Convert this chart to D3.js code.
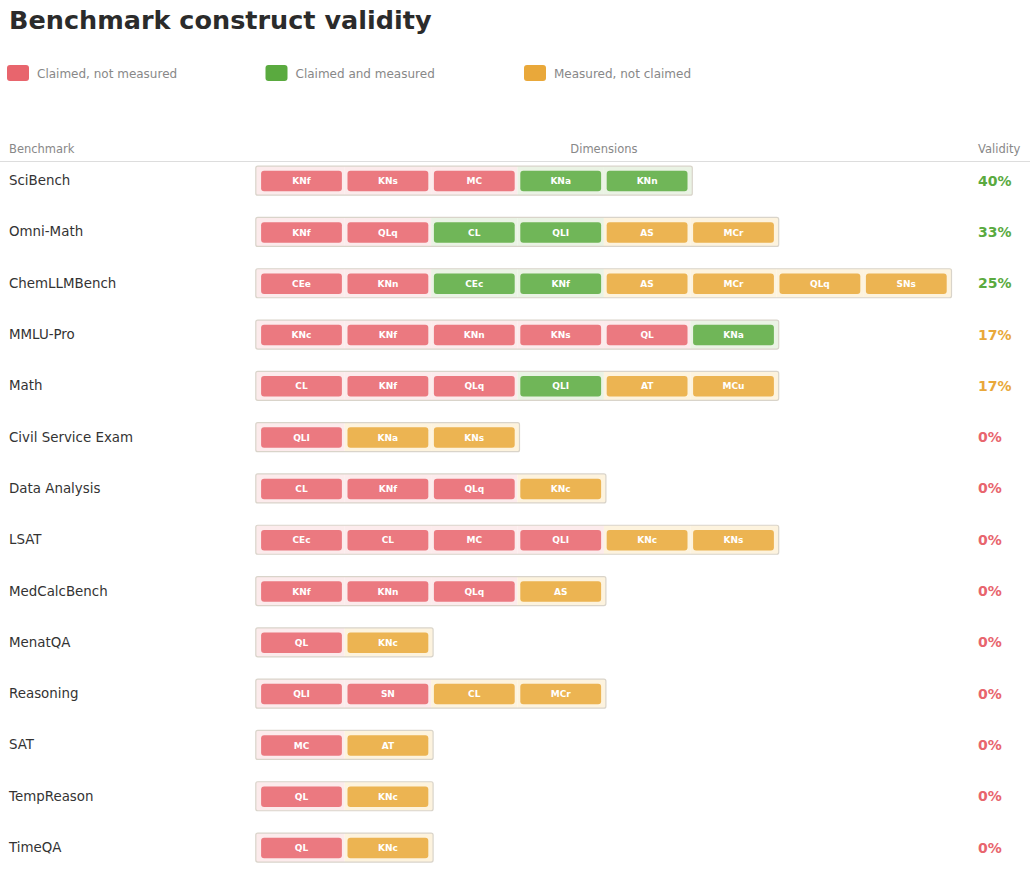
<!DOCTYPE html>
<html>
<head>
<meta charset="utf-8">
<script src="https://cdn.jsdelivr.net/npm/d3@7"></script>
<style>
  body { margin: 0; background: #fff; }
  svg { display: block; font-family: "DejaVu Sans", sans-serif; }
</style>
</head>
<body>
<svg width="1030" height="874"></svg>
<script>
// Data
// ----
var benchmarks = ['SciBench', 'Omni-Math', 'ChemLLMBench', 'MMLU-Pro', 'Math',
  'Civil Service Exam', 'Data Analysis', 'LSAT', 'MedCalcBench', 'MenatQA',
  'Reasoning', 'SAT', 'TempReason', 'TimeQA'];

var claimedNotMeasured = [
  ['KNf', 'KNs', 'MC'],
  ['KNf', 'QLq'],
  ['CEe', 'KNn'],
  ['KNc', 'KNf', 'KNn', 'KNs', 'QL'],
  ['CL', 'KNf', 'QLq'],
  ['QLI'],
  ['CL', 'KNf', 'QLq'],
  ['CEc', 'CL', 'MC', 'QLI'],
  ['KNf', 'KNn', 'QLq'],
  ['QL'],
  ['QLI', 'SN'],
  ['MC'],
  ['QL'],
  ['QL']
];

var claimedAndMeasured = [
  ['KNa', 'KNn'],
  ['CL', 'QLI'],
  ['CEc', 'KNf'],
  ['KNa'],
  ['QLI'],
  [], [], [], [], [], [], [], [], []
];

var measuredNotClaimed = [
  [],
  ['AS', 'MCr'],
  ['AS', 'MCr', 'QLq', 'SNs'],
  [],
  ['AT', 'MCu'],
  ['KNa', 'KNs'],
  ['KNc'],
  ['KNc', 'KNs'],
  ['AS'],
  ['KNc'],
  ['CL', 'MCr'],
  ['AT'],
  ['KNc'],
  ['KNc']
];

var validity = [40, 33, 25, 17, 17, 0, 0, 0, 0, 0, 0, 0, 0, 0];

var legendLabels = ['Claimed, not measured', 'Claimed and measured', 'Measured, not claimed'];

// Styles
// ------
var colors = ['#e8656d', '#5aaa3f', '#e9a83a'];
var tints = ['#fcebec', '#eaf3e4', '#fdf3de'];

var svg = d3.select('svg');

// Title
// -----
svg.append('text')
   .attr('x', 9)
   .attr('y', 29)
   .text('Benchmark construct validity')
   .attr('font-size', '25.5px')
   .attr('font-weight', 'bold')
   .attr('fill', '#2b2b2b');

// Legend
// ------
var legendX = d3.scaleLinear().domain([0, 1]).range([7, 265.5]);
var legend = svg.selectAll('g.legend')
   .data(legendLabels)
   .enter().append('g')
   .attr('class', 'legend')
   .attr('transform', function (d, i) { return 'translate(' + legendX(i) + ',65)'; });
legend.append('rect')
   .attr('width', 22)
   .attr('height', 16)
   .attr('rx', 3)
   .style('fill', function (d, i) { return colors[i]; });
legend.append('text')
   .attr('x', 30)
   .attr('y', 12.5)
   .text(function (d) { return d; })
   .attr('font-size', '12px')
   .attr('fill', '#888');

// Header
// ------
var x = d3.scaleLinear().domain([0, 8]).range([258.3, 258.3 + 8 * 86.4]);
var y = d3.scaleBand().domain(benchmarks).range([155, 155 + 14 * 51.3]);

svg.append('text').attr('x', 9).attr('y', 153).text('Benchmark')
   .attr('font-size', '11.5px').attr('fill', '#888');
svg.append('text').attr('x', (x(0) + x(8)) / 2).attr('y', 153).text('Dimensions')
   .attr('text-anchor', 'middle').attr('font-size', '11.5px').attr('fill', '#888');
svg.append('text').attr('x', 978).attr('y', 153).text('Validity')
   .attr('font-size', '11.5px').attr('fill', '#888');
svg.append('line')
   .attr('x1', 0).attr('x2', 1030)
   .attr('y1', 161.5).attr('y2', 161.5)
   .style('stroke', '#ddd');

// Rows
// ----
var rows = benchmarks.map(function (name, i) {
  var chips = [];
  [claimedNotMeasured[i], claimedAndMeasured[i], measuredNotClaimed[i]].forEach(function (list, g) {
    list.forEach(function (code) { chips.push({code: code, group: g}); });
  });
  return {name: name, chips: chips, validity: validity[i]};
});

var validityColor = function (v) {
  return v >= 25 ? colors[1] : v > 0 ? colors[2] : colors[0];
};

var row = svg.selectAll('g.row')
   .data(rows)
   .enter().append('g')
   .attr('class', 'row')
   .attr('transform', function (d) { return 'translate(0,' + (y(d.name) + y.bandwidth() / 2) + ')'; });

row.append('text')
   .attr('x', 9)
   .attr('y', 4.5)
   .text(function (d) { return d.name; })
   .attr('font-size', '13.4px')
   .attr('fill', '#333');

row.append('text')
   .attr('x', 978)
   .attr('y', 5)
   .text(function (d) { return d.validity + '%'; })
   .attr('font-size', '14px')
   .attr('font-weight', 'bold')
   .attr('fill', function (d) { return validityColor(d.validity); });

// cell tints, padded out at both ends of the strip
row.selectAll('rect.cell')
   .data(function (d) { return d.chips.map(function (c, i) { return {c: c, i: i, n: d.chips.length}; }); })
   .enter().append('rect')
   .attr('class', 'cell')
   .attr('x', function (d) { return d.i === 0 ? x(0) - 2.5 : x(d.i); })
   .attr('width', function (d) {
     return (x(d.i + 1) - x(d.i)) + (d.i === 0 ? 2.5 : 0) + (d.i === d.n - 1 ? 2 : 0);
   })
   .attr('y', -14.5)
   .attr('height', 29)
   .style('fill', function (d) { return tints[d.c.group]; });

row.append('rect')
   .attr('x', x(0) - 2.5)
   .attr('y', -14.5)
   .attr('width', function (d) { return x(d.chips.length) - x(0) + 4.5; })
   .attr('height', 29)
   .attr('rx', 2)
   .style('fill', 'none')
   .style('stroke', '#d9d4ca')
   .style('stroke-width', 1.2);

var chip = row.selectAll('g.chip')
   .data(function (d) { return d.chips; })
   .enter().append('g')
   .attr('class', 'chip')
   .attr('transform', function (d, i) { return 'translate(' + x(i) + ',0)'; });

chip.append('rect')
   .attr('x', 2.8)
   .attr('y', -9.8)
   .attr('width', x(1) - x(0) - 5.6)
   .attr('height', 20.5)
   .attr('rx', 3)
   .style('fill', function (d) { return colors[d.group]; })
   .style('fill-opacity', 0.85);

chip.append('text')
   .attr('x', (x(1) - x(0)) / 2)
   .attr('y', 3.6)
   .text(function (d) { return d.code; })
   .attr('text-anchor', 'middle')
   .attr('font-size', '9px')
   .attr('font-weight', 'bold')
   .attr('fill', '#fff');
</script>
</body>
</html>
